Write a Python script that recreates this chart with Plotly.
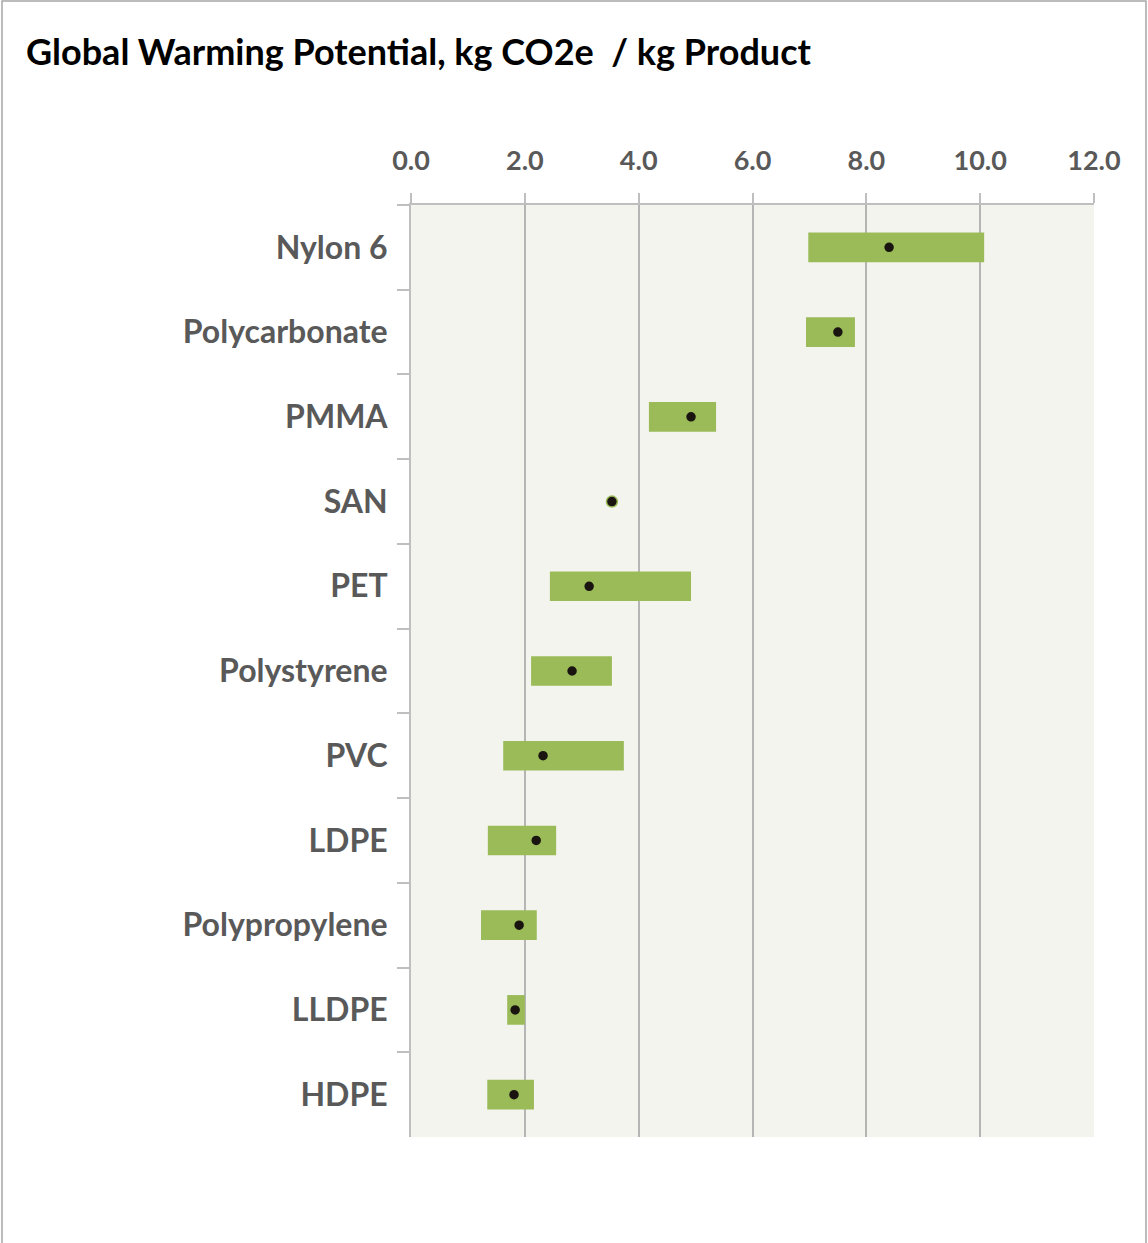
import plotly.graph_objects as go

materials = ["Nylon 6", "Polycarbonate", "PMMA", "SAN", "PET", "Polystyrene",
             "PVC", "LDPE", "Polypropylene", "LLDPE", "HDPE"]
low_vals = [6.98, 6.94, 4.18, 3.53, 2.44, 2.11, 1.62, 1.35, 1.23, 1.69, 1.34]
high_vals = [10.07, 7.80, 5.36, 3.53, 4.92, 3.53, 3.74, 2.55, 2.21, 2.00, 2.16]
mid_vals = [8.40, 7.50, 4.92, 3.53, 3.13, 2.83, 2.32, 2.20, 1.90, 1.83, 1.81]
x_ticks = [0, 2, 4, 6, 8, 10, 12]

GREEN = "#9BBB59"
GRID = "#BFBFBF"
LABEL = "#595959"
FONT = "Lato"

fig = go.Figure()
fig.add_trace(go.Bar(
    y=materials,
    x=[h - l for h, l in zip(high_vals, low_vals)],
    base=low_vals,
    orientation="h",
    width=0.35,
    marker=dict(color=GREEN, line=dict(width=0)),
    showlegend=False,
))
fig.add_trace(go.Scatter(
    y=materials,
    x=mid_vals,
    mode="markers",
    marker=dict(color="#1A1410", size=11, line=dict(color=GREEN, width=1.5)),
    showlegend=False,
))

W, H = 1148, 1243
L, R, T, B = 411, 54, 205, 106

fig.update_layout(
    width=W, height=H,
    margin=dict(l=L, r=R, t=T, b=B),
    paper_bgcolor="white",
    plot_bgcolor="#F4F4EE",
    barmode="overlay",
    title=dict(
        text="Global Warming Potential, kg CO2e  / kg Product",
        xref="container", yref="container",
        x=26 / W, xanchor="left",
        y=1 - 52 / H, yanchor="middle",
        font=dict(family=FONT, size=36, color="black", weight="bold"),
    ),
    xaxis=dict(
        side="top",
        range=[0, 12],
        tickvals=x_ticks,
        tickformat=".1f",
        ticks="outside", ticklen=10, tickcolor=GRID, tickwidth=1.5,
        showgrid=True, gridcolor="#B5B5B5", gridwidth=1.5,
        showline=True, linecolor=GRID, linewidth=2,
        zeroline=False,
        ticklabelstandoff=12,
        tickfont=dict(family=FONT, size=27, color=LABEL, weight="bold"),
    ),
    yaxis=dict(
        categoryorder="array",
        categoryarray=materials,
        range=[len(materials) - 0.5, -0.5],
        tickson="boundaries",
        ticks="outside", ticklen=12, tickcolor=GRID, tickwidth=1.5,
        showgrid=False,
        showline=True, linecolor=GRID, linewidth=2,
        ticklabelstandoff=15,
        tickfont=dict(family=FONT, size=32, color=LABEL, weight="bold"),
    ),
    shapes=[dict(
        type="rect", xref="paper", yref="paper",
        x0=(2 - L) / (W - L - R), x1=(W - 2 - L) / (W - L - R),
        y0=-(B + 20) / (H - T - B), y1=1 + (T - 1) / (H - T - B),
        line=dict(color="#A6A6A6", width=1.5),
        fillcolor="rgba(0,0,0,0)", layer="below",
    )],
)

fig.write_html("out.html", config={"displayModeBar": False},
               post_script="document.body.style.margin='0';")
